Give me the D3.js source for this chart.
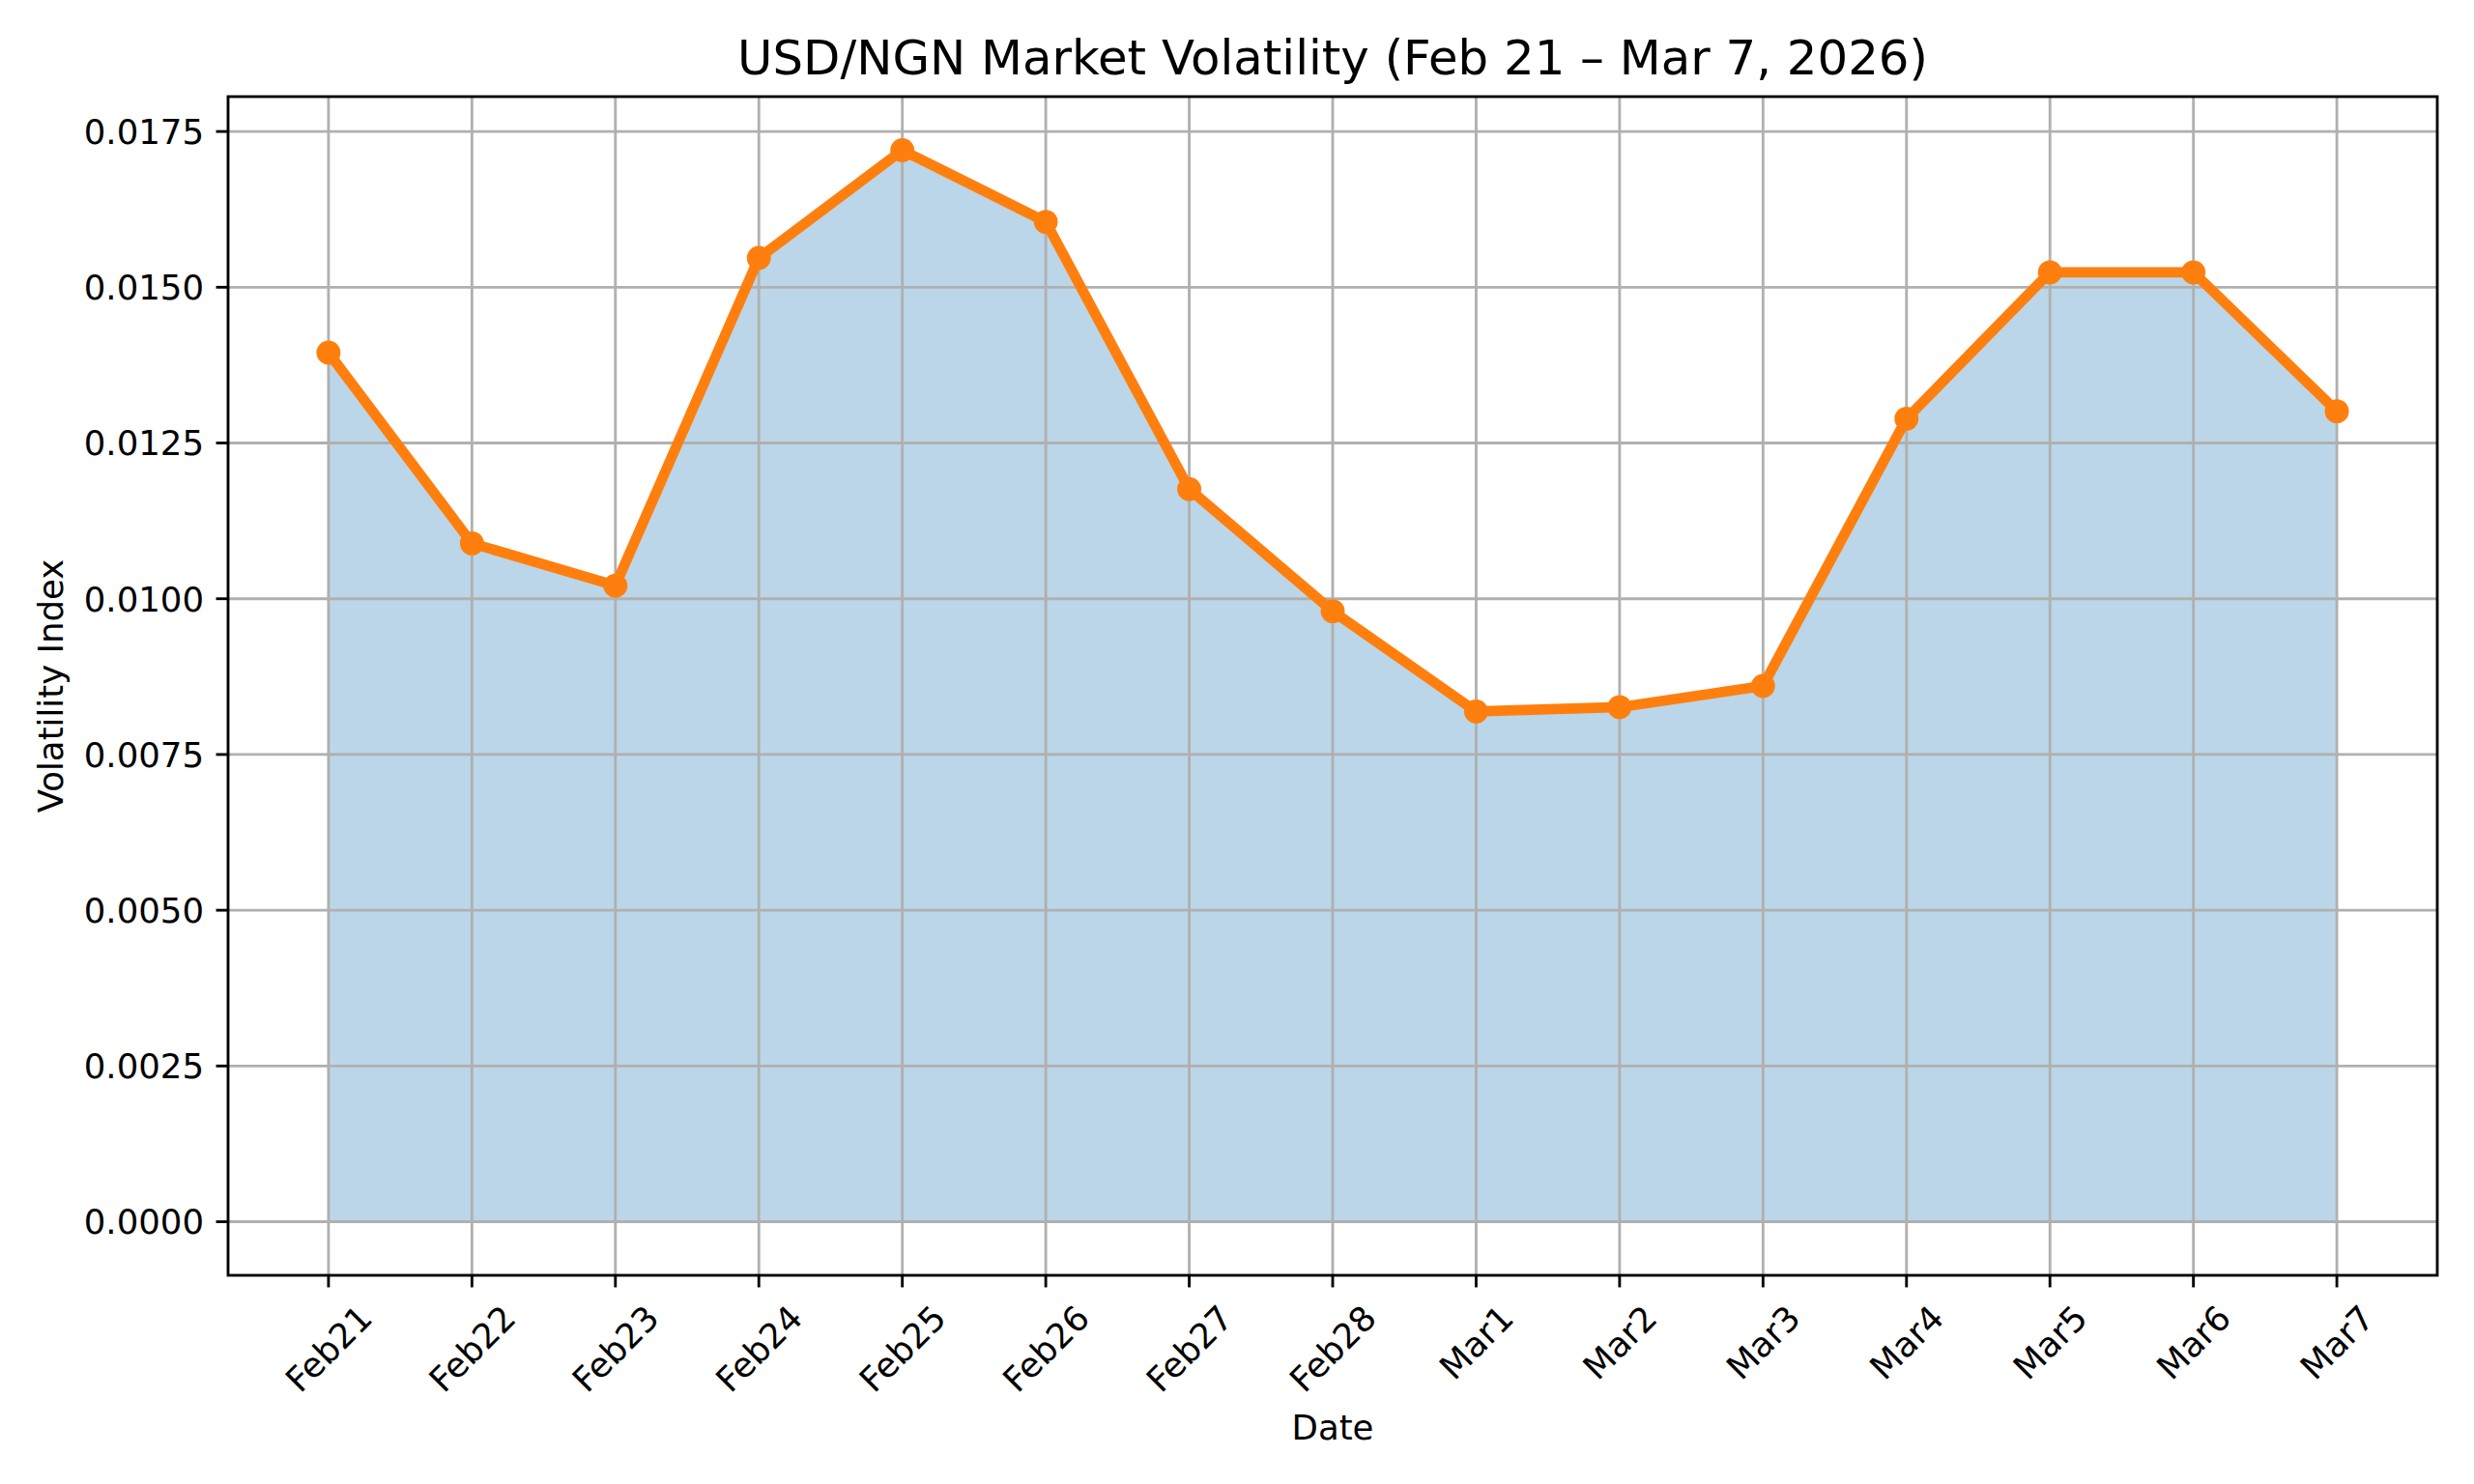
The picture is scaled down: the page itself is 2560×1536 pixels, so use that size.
<!DOCTYPE html>
<html>
<head>
<meta charset="utf-8">
<script src="https://cdn.jsdelivr.net/npm/d3@7"></script>
<style>
  html, body { margin: 0; padding: 0; background: #fff; }
  svg { display: block; font-family: "DejaVu Sans", sans-serif; }
</style>
</head>
<body>
<div id="container"></div>
<script>
// data
const dates = ["Feb21", "Feb22", "Feb23", "Feb24", "Feb25", "Feb26", "Feb27", "Feb28",
               "Mar1", "Mar2", "Mar3", "Mar4", "Mar5", "Mar6", "Mar7"];
const volatility = [0.01395, 0.01089, 0.01021, 0.01547, 0.01720, 0.01605, 0.01176, 0.00980,
                    0.00819, 0.00826, 0.00860, 0.01289, 0.01524, 0.01524, 0.01301];
const yTicks = [0, 0.0025, 0.005, 0.0075, 0.01, 0.0125, 0.015, 0.0175];

const title = "USD/NGN Market Volatility (Feb 21 \u2013 Mar 7, 2026)";
const xLabel = "Date";
const yLabel = "Volatility Index";

const width = 2560, height = 1536;
const pt = 256 / 72; // figure was 10x6 in at 256 dpi
const margin = {left: 236, right: 38, top: 100, bottom: 216};

const tickFont = 10 * pt, titleFont = 14 * pt;
const orange = "#ff7f0e", blue = "#1f77b4", gridColor = "#b0b0b0";

const x = d3.scalePoint()
    .domain(dates)
    .range([margin.left, width - margin.right])
    .padding(0.7);

const ymax = d3.max(volatility);
const y = d3.scaleLinear()
    .domain([-0.05 * ymax, 1.05 * ymax])
    .range([height - margin.bottom, margin.top]);

const fmt = d3.format(".4f");

const svg = d3.select("#container").append("svg")
    .attr("width", width)
    .attr("height", height)
    .attr("viewBox", [0, 0, width, height]);

const x0 = margin.left, x1 = width - margin.right;
const y0 = margin.top, y1 = height - margin.bottom;

// area under the line
const area = d3.area()
    .x((d, i) => x(dates[i]))
    .y0(y(0))
    .y1(d => y(d));

svg.append("path")
    .datum(volatility)
    .attr("d", area)
    .attr("fill", blue)
    .attr("fill-opacity", 0.3);

// grid
const grid = svg.append("g")
    .attr("stroke", gridColor)
    .attr("stroke-width", 0.8 * pt);

grid.selectAll("line.v")
    .data(dates)
    .join("line")
    .attr("class", "v")
    .attr("x1", d => x(d)).attr("x2", d => x(d))
    .attr("y1", y0).attr("y2", y1);

grid.selectAll("line.h")
    .data(yTicks)
    .join("line")
    .attr("class", "h")
    .attr("x1", x0).attr("x2", x1)
    .attr("y1", d => y(d)).attr("y2", d => y(d));

// line + markers
const line = d3.line()
    .x((d, i) => x(dates[i]))
    .y(d => y(d));

svg.append("path")
    .datum(volatility)
    .attr("d", line)
    .attr("fill", "none")
    .attr("stroke", orange)
    .attr("stroke-width", 3 * pt)
    .attr("stroke-linejoin", "round");

svg.append("g")
    .selectAll("circle")
    .data(volatility)
    .join("circle")
    .attr("cx", (d, i) => x(dates[i]))
    .attr("cy", d => y(d))
    .attr("r", 3 * pt)
    .attr("fill", orange)
    .attr("stroke", orange)
    .attr("stroke-width", 1 * pt);

// spines
svg.append("rect")
    .attr("x", x0).attr("y", y0)
    .attr("width", x1 - x0).attr("height", y1 - y0)
    .attr("fill", "none")
    .attr("stroke", "#000")
    .attr("stroke-width", 0.8 * pt);

const tickLen = 3.5 * pt, tickPad = 3.5 * pt;

// y ticks
const yAxis = svg.append("g");
yAxis.selectAll("line")
    .data(yTicks)
    .join("line")
    .attr("x1", x0 - tickLen).attr("x2", x0)
    .attr("y1", d => y(d)).attr("y2", d => y(d))
    .attr("stroke", "#000")
    .attr("stroke-width", 0.8 * pt);

yAxis.selectAll("text")
    .data(yTicks)
    .join("text")
    .attr("x", x0 - tickLen - tickPad)
    .attr("y", d => y(d))
    .attr("dy", "0.36em")
    .attr("text-anchor", "end")
    .attr("font-size", tickFont)
    .text(d => fmt(d));

// x ticks
const xAxis = svg.append("g");
xAxis.selectAll("line")
    .data(dates)
    .join("line")
    .attr("x1", d => x(d)).attr("x2", d => x(d))
    .attr("y1", y1).attr("y2", y1 + tickLen)
    .attr("stroke", "#000")
    .attr("stroke-width", 0.8 * pt);

const xt = xAxis.selectAll("text")
    .data(dates)
    .join("text")
    .attr("text-anchor", "middle")
    .attr("font-size", tickFont)
    .attr("dy", "0.36em")
    .text(d => d);

// rotated 45deg, bbox centred under the tick like matplotlib
xt.attr("transform", function (d) {
    const w = this.getComputedTextLength();
    const h = tickFont;
    const half = (w + h) * Math.SQRT1_2 / 2;
    return `translate(${x(d)},${y1 + tickLen + tickPad + half}) rotate(-45)`;
});

// labels
svg.append("text")
    .attr("x", (x0 + x1) / 2)
    .attr("y", y0 - 6 * pt - 2)
    .attr("text-anchor", "middle")
    .attr("font-size", titleFont)
    .text(title);

svg.append("text")
    .attr("x", (x0 + x1) / 2)
    .attr("y", 1490)
    .attr("text-anchor", "middle")
    .attr("font-size", tickFont)
    .text(xLabel);

svg.append("text")
    .attr("transform", `translate(65,${(y0 + y1) / 2}) rotate(-90)`)
    .attr("text-anchor", "middle")
    .attr("font-size", tickFont)
    .text(yLabel);
</script>
</body>
</html>
